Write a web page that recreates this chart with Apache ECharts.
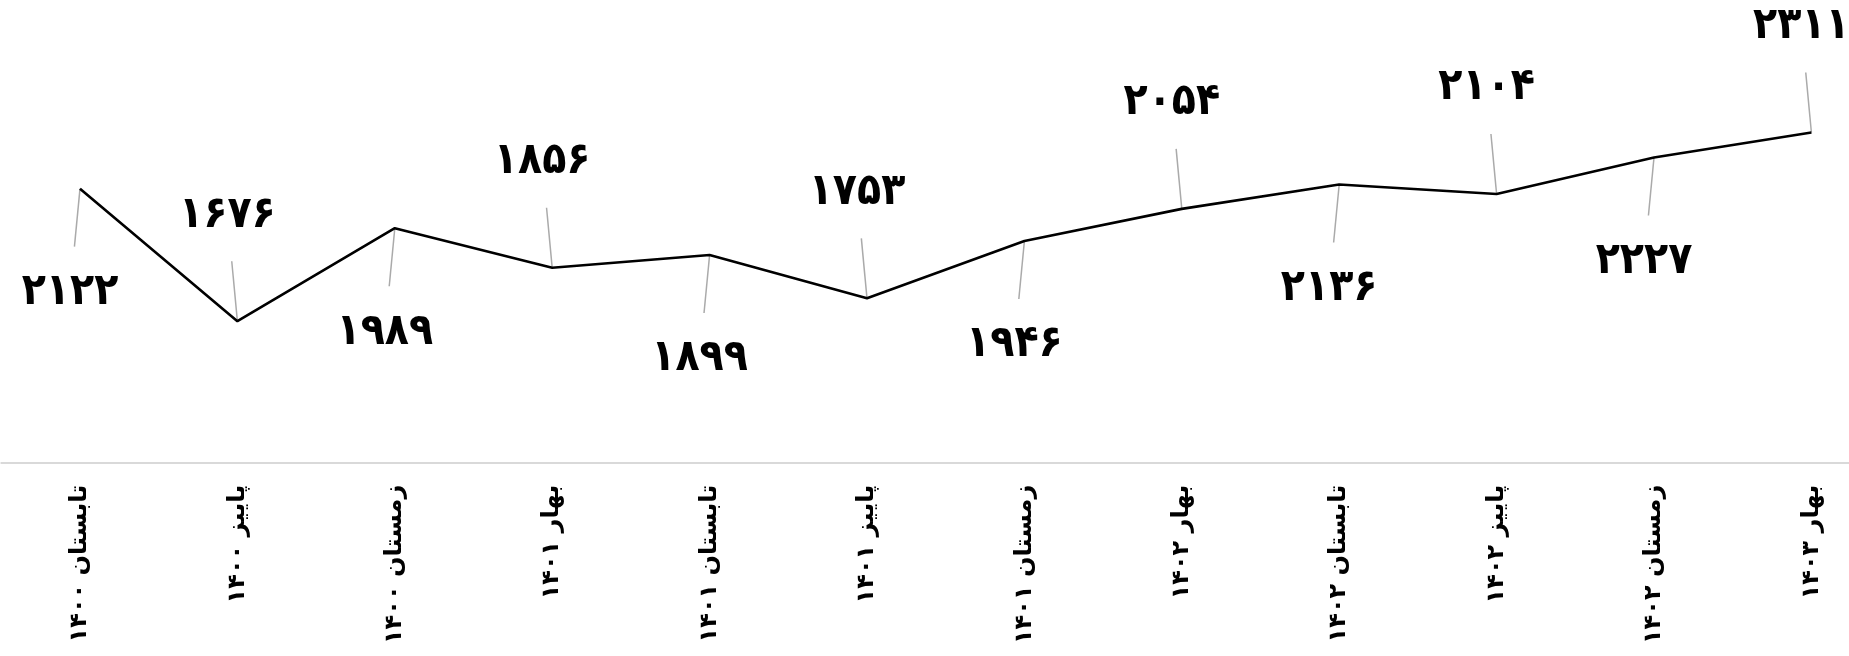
<!DOCTYPE html>
<html>
<head>
<meta charset="utf-8">
<script src="https://cdn.jsdelivr.net/npm/echarts@6/dist/echarts.min.js"></script>
<style>
html,body{margin:0;padding:0;background:#fff;}
#chart{width:1849px;height:656px;}
</style>
</head>
<body>
<div id="chart"></div>
<script>
// ---- data ----
const categories = ['تابستان ۱۴۰۰','پاییز ۱۴۰۰','زمستان ۱۴۰۰','بهار ۱۴۰۱','تابستان ۱۴۰۱','پاییز ۱۴۰۱','زمستان ۱۴۰۱','بهار ۱۴۰۲','تابستان ۱۴۰۲','پاییز ۱۴۰۲','زمستان ۱۴۰۲','بهار ۱۴۰۳'];
const values = [2122, 1676, 1989, 1856, 1899, 1753, 1946, 2054, 2136, 2104, 2227, 2311];

// ---- style constants ----
const FA_DIGITS = '۰۱۲۳۴۵۶۷۸۹';
const toFa = n => String(n).replace(/\d/g, d => FA_DIGITS[+d]);
const LABEL_DX = -10;
const LABEL_DY_ABOVE = -106;
const LABEL_DY_BELOW = 104;
const LEADER_GAP = 46;

const chart = echarts.init(document.getElementById('chart'), null, {renderer: 'canvas'});

const option = {
  animation: false,
  backgroundColor: '#ffffff',
  grid: {left: 1.3, right: -41.1, top: 46.6, bottom: 193.3, containLabel: false, outerBoundsMode: 'none'},
  xAxis: {
    type: 'category',
    data: categories,
    boundaryGap: true,
    axisLine: {show: true, lineStyle: {color: '#d9d9d9', width: 2}},
    axisTick: {show: false},
    axisLabel: {
      rotate: 90,
      margin: 22,
      interval: 0,
      color: '#000',
      fontWeight: 'bold',
      fontSize: 24,
      fontFamily: 'DejaVu Sans'
    },
    splitLine: {show: false}
  },
  yAxis: {
    type: 'value',
    min: 1200,
    max: 2600,
    show: false,
    splitLine: {show: false}
  },
  series: [
    {
      type: 'line',
      data: values,
      showSymbol: false,
      symbol: 'none',
      lineStyle: {color: '#000', width: 2.6},
      z: 3
    },
    {
      type: 'custom',
      data: values.map((v, i) => [i, v]),
      encode: {x: 0, y: 1},
      z: 2,
      renderItem: function (params, api) {
        const i = api.value(0);
        const v = api.value(1);
        const p = api.coord([i, v]);
        const dy = (params.dataIndex % 2 === 0) ? LABEL_DY_BELOW : LABEL_DY_ABOVE;
        const cx = p[0] + LABEL_DX;
        const cy = p[1] + dy;
        const f = (Math.abs(dy) - LEADER_GAP) / Math.abs(dy);
        return {
          type: 'group',
          children: [
            {
              type: 'line',
              shape: {x1: p[0], y1: p[1], x2: p[0] + (cx - p[0]) * f, y2: p[1] + (cy - p[1]) * f},
              style: {stroke: '#aaaaaa', lineWidth: 1.5}
            },
            {
              type: 'text',
              style: {
                text: toFa(v),
                x: cx,
                y: cy,
                align: 'center',
                verticalAlign: 'middle',
                fill: '#000',
                fontWeight: 'bold',
                fontSize: 44,
                fontFamily: 'DejaVu Sans Condensed'
              }
            }
          ]
        };
      }
    }
  ]
};
chart.setOption(option);
</script>
</body>
</html>
